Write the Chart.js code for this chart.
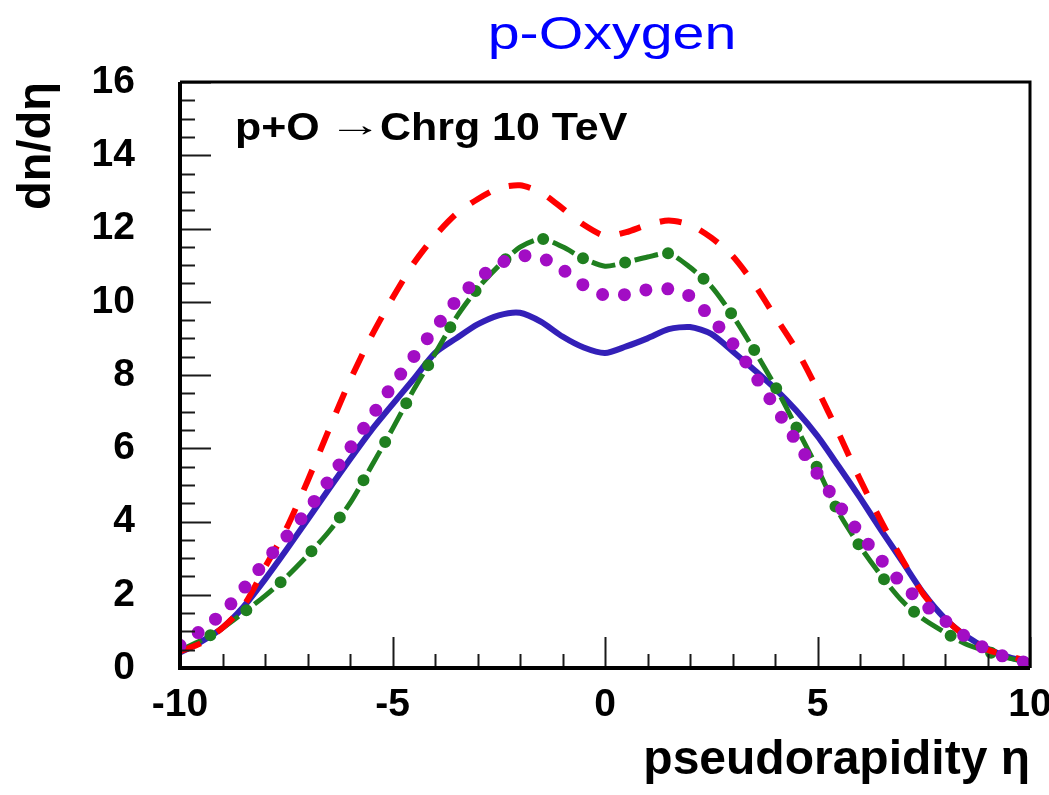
<!DOCTYPE html>
<html>
<head>
<meta charset="utf-8">
<script src="https://cdn.jsdelivr.net/npm/chart.js@4.4.1/dist/chart.umd.min.js"></script>
<style>
  html, body { margin: 0; padding: 0; background: #fff; }
  canvas { display: block; }
</style>
</head>
<body>
<canvas id="chart" width="1049" height="795"></canvas>
<script>
// pseudorapidity grid (eta), step 0.5
const eta = [-10, -9.5, -9, -8.5, -8, -7.5, -7, -6.5, -6, -5.5, -5, -4.5, -4, -3.5, -3, -2.5, -2, -1.5, -1, -0.5,
  0, 0.5, 1, 1.5, 2, 2.5, 3, 3.5, 4, 4.5, 5, 5.5, 6, 6.5, 7, 7.5, 8, 8.5, 9, 9.5, 10];

// dn/deta
const blueSolid = [0.42, 0.72, 1.1, 1.68, 2.42, 3.22, 4.05, 4.88, 5.7, 6.49, 7.2, 7.89, 8.6, 9.0, 9.38, 9.63, 9.7, 9.45, 9.05, 8.75,
  8.6, 8.78, 9.0, 9.25, 9.31, 9.12, 8.65, 8.15, 7.63, 7.03, 6.33, 5.5, 4.65, 3.76, 2.9, 2.03, 1.35, 0.87, 0.53, 0.3, 0.15];
const redDashed = [0.45, 0.68, 1.1, 1.7, 2.75, 3.8, 5.1, 6.5, 7.85, 9.05, 10.1, 11.05, 11.8, 12.4, 12.8, 13.1, 13.18, 12.98, 12.55, 12.1,
  11.8, 11.9, 12.1, 12.22, 12.1, 11.75, 11.25, 10.5, 9.6, 8.7, 7.6, 6.4, 5.15, 4.0, 2.95, 2.0, 1.35, 0.85, 0.5, 0.33, 0.17];
const greenDashDot = [0.48, 0.76, 1.09, 1.52, 1.97, 2.48, 3.07, 3.72, 4.5, 5.5, 6.53, 7.6, 8.58, 9.57, 10.36, 10.98, 11.49, 11.72, 11.5, 11.18,
  10.97, 11.08, 11.22, 11.32, 10.94, 10.42, 9.63, 8.7, 7.7, 6.58, 5.45, 4.24, 3.32, 2.52, 1.82, 1.33, 0.97, 0.65, 0.45, 0.27, 0.15];
const purpleDotted = [0.62, 1.03, 1.5, 2.17, 2.9, 3.58, 4.3, 5.12, 6.0, 6.85, 7.72, 8.5, 9.27, 10.03, 10.6, 11.03, 11.25, 11.2, 10.88, 10.45,
  10.18, 10.2, 10.33, 10.35, 10.15, 9.55, 8.87, 8.03, 7.13, 6.19, 5.3, 4.45, 3.66, 2.95, 2.28, 1.75, 1.29, 0.84, 0.5, 0.27, 0.12];

const xTicks = [-10, -5, 0, 5, 10];
const yTicks = [0, 2, 4, 6, 8, 10, 12, 14, 16];

const FONT = "'Liberation Sans', Arial, Helvetica, sans-serif";

const toPoints = (ys) => eta.map((x, i) => ({ x: x, y: ys[i] }));

const lineBase = { pointRadius: 0, pointHoverRadius: 0, fill: false, tension: 0.25 };

// frame, inward ticks, title and the inset label, ROOT style
const rootFrame = {
  id: 'rootFrame',
  afterDatasetsDraw(chart) {
    const { ctx, chartArea: a, scales } = chart;
    const xs = scales.x, ys = scales.y;
    ctx.save();
    ctx.strokeStyle = '#1a1a1a';
    ctx.lineWidth = 2;
    ctx.beginPath();
    for (let v = -10; v <= 10; v += 1) {
      const px = Math.round(xs.getPixelForValue(v)) + 0.5;
      const len = (v % 5 === 0) ? 31 : 14;
      ctx.moveTo(px, a.bottom);
      ctx.lineTo(px, a.bottom - len);
    }
    for (let v = 0; v <= 16; v += 0.5) {
      const py = Math.round(ys.getPixelForValue(v)) + 0.5;
      const len = (v % 2 === 0) ? 31 : 15;
      ctx.moveTo(a.left, py);
      ctx.lineTo(a.left + len, py);
    }
    ctx.stroke();

    ctx.strokeStyle = '#000';
    ctx.lineWidth = 4;
    ctx.beginPath();
    ctx.moveTo(a.left, a.top);
    ctx.lineTo(a.left, a.bottom);
    ctx.lineTo(a.right, a.bottom);
    ctx.stroke();
    ctx.lineWidth = 3;
    ctx.beginPath();
    ctx.moveTo(a.left, a.top);
    ctx.lineTo(a.right, a.top);
    ctx.lineTo(a.right, a.bottom);
    ctx.stroke();

    // title
    ctx.fillStyle = '#0000ff';
    ctx.font = '47px ' + FONT;
    ctx.textAlign = 'center';
    ctx.textBaseline = 'alphabetic';
    ctx.save();
    ctx.translate(612, 49);
    ctx.scale(1.22, 1);
    ctx.fillText('p-Oxygen', 0, 0);
    ctx.restore();

    // inset label
    ctx.fillStyle = '#000';
    ctx.textAlign = 'left';
    const base = a.top + 58;
    ctx.save();
    ctx.translate(a.left + 55, base);
    ctx.scale(1.13, 1);
    ctx.font = 'bold 38px ' + FONT;
    ctx.fillText('p+O', 0, 0);
    ctx.restore();
    ctx.save();
    ctx.translate(a.left + 148, base - 4);
    ctx.scale(1.6, 1);
    ctx.font = '34px ' + FONT;
    ctx.fillText('\u2192', 0, 0);
    ctx.restore();
    ctx.save();
    ctx.translate(a.left + 200, base);
    ctx.scale(1.13, 1);
    ctx.font = 'bold 38px ' + FONT;
    ctx.fillText('Chrg 10 TeV', 0, 0);
    ctx.restore();
    ctx.restore();
  }
};

const datasets = [
  Object.assign({}, lineBase, {
    label: 'purple', data: toPoints(purpleDotted), borderColor: '#a20dc4',
    borderWidth: 13, borderDash: [0, 22], borderCapStyle: 'round'
  }),
  Object.assign({}, lineBase, {
    label: 'red', data: toPoints(redDashed), borderColor: '#ff0000',
    borderWidth: 6, borderDash: [22, 20], borderCapStyle: 'butt'
  }),
  Object.assign({}, lineBase, {
    label: 'green dots', data: toPoints(greenDashDot), borderColor: '#1f7f1f',
    borderWidth: 12, borderDash: [0, 44], borderDashOffset: 10, borderCapStyle: 'round'
  }),
  Object.assign({}, lineBase, {
    label: 'green', data: toPoints(greenDashDot), borderColor: '#1f7f1f',
    borderWidth: 5, borderDash: [24, 20], borderCapStyle: 'butt'
  }),
  Object.assign({}, lineBase, {
    label: 'blue', data: toPoints(blueSolid), borderColor: '#3320b8',
    borderWidth: 6, borderCapStyle: 'butt'
  })
];

new Chart(document.getElementById('chart'), {
  type: 'line',
  data: { datasets: datasets },
  options: {
    responsive: false,
    animation: false,
    layout: { padding: { top: 82, right: 19, left: 0, bottom: 0 } },
    plugins: { legend: { display: false }, tooltip: { enabled: false }, title: { display: false } },
    scales: {
      x: {
        type: 'linear', min: -10, max: 10,
        afterBuildTicks: (s) => { s.ticks = xTicks.map(v => ({ value: v })); },
        afterFit: (s) => { s.height = 127; s.paddingLeft = 0; s.paddingRight = 0; },
        grid: { display: false, drawTicks: false },
        border: { display: false },
        ticks: { padding: 14, color: '#000', maxRotation: 0, font: { family: FONT, size: 39, weight: 'bold' } },
        title: {
          display: true, text: 'pseudorapidity \u03b7', align: 'end', color: '#000',
          padding: { top: 0, bottom: 5 }, font: { family: FONT, size: 48, weight: 'bold' }
        }
      },
      y: {
        type: 'linear', min: 0, max: 16,
        afterBuildTicks: (s) => { s.ticks = yTicks.map(v => ({ value: v })); },
        afterFit: (s) => { s.width = 180; s.paddingTop = 0; s.paddingBottom = 0; },
        grid: { display: false, drawTicks: false },
        border: { display: false },
        ticks: { padding: 45, color: '#000', font: { family: FONT, size: 39, weight: 'bold' } },
        title: {
          display: true, text: 'dn/d\u03b7', align: 'end', color: '#000',
          padding: { top: 9, bottom: 0 }, font: { family: FONT, size: 47, weight: 'bold' }
        }
      }
    }
  },
  plugins: [rootFrame]
});
</script>
</body>
</html>
